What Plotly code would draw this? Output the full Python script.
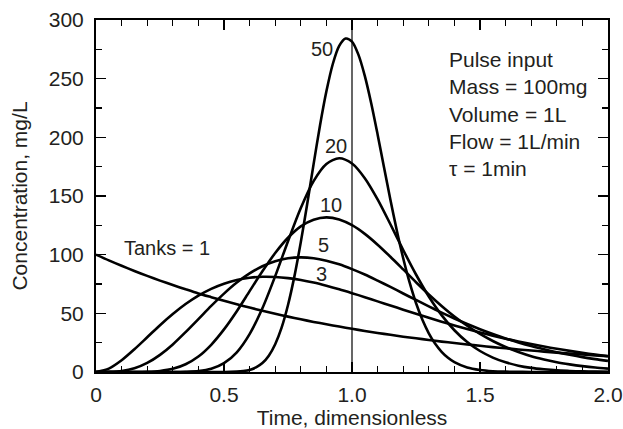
import plotly.graph_objects as go

# Dimensionless time samples
theta = [0.00, 0.05, 0.10, 0.15, 0.20, 0.25, 0.30, 0.35, 0.40, 0.45,
         0.50, 0.55, 0.60, 0.65, 0.70, 0.75, 0.80, 0.85, 0.90, 0.95,
         1.00, 1.05, 1.10, 1.15, 1.20, 1.25, 1.30, 1.35, 1.40, 1.45,
         1.50, 1.55, 1.60, 1.65, 1.70, 1.75, 1.80, 1.85, 1.90, 1.95, 2.00]

tanks_1 = [100.0, 95.1, 90.5, 86.1, 81.9, 77.9, 74.1, 70.5, 67.0, 63.8,
           60.7, 57.7, 54.9, 52.2, 49.7, 47.2, 44.9, 42.7, 40.7, 38.7,
           36.8, 35.0, 33.3, 31.7, 30.1, 28.7, 27.3, 25.9, 24.7, 23.5,
           22.3, 21.2, 20.2, 19.2, 18.3, 17.4, 16.5, 15.7, 15.0, 14.2, 13.5]

tanks_3 = [0.0, 2.9, 10.0, 19.4, 29.6, 39.9, 49.4, 57.9, 65.1, 70.9,
           75.3, 78.4, 80.3, 81.2, 81.0, 80.0, 78.4, 76.2, 73.5, 70.5,
           67.2, 63.8, 60.2, 56.7, 53.1, 49.6, 46.2, 42.9, 39.7, 36.6,
           33.7, 31.0, 28.4, 26.0, 23.8, 21.7, 19.8, 18.0, 16.3, 14.8, 13.4]

tanks_5 = [0.0, 0.1, 0.8, 3.1, 7.7, 14.6, 23.5, 34.0, 45.1, 56.3,
           66.8, 76.2, 84.0, 90.1, 94.4, 96.9, 97.7, 97.0, 94.9, 91.8,
           87.7, 83.1, 77.9, 72.5, 66.9, 61.4, 55.9, 50.6, 45.6, 40.9,
           36.5, 32.4, 28.6, 25.2, 22.1, 19.4, 16.9, 14.7, 12.7, 11.0, 9.5]

tanks_10 = [0.0, 0.0, 0.0, 0.0, 0.2, 0.9, 2.7, 6.6, 13.2, 23.2,
            36.3, 51.8, 68.9, 85.8, 101.4, 114.4, 124.1, 129.8, 131.8, 130.0,
            125.1, 117.7, 108.5, 98.2, 87.4, 76.5, 66.1, 56.3, 47.3, 39.4,
            32.4, 26.4, 21.3, 17.1, 13.5, 10.7, 8.3, 6.5, 5.0, 3.8, 2.9]

tanks_20 = [0.0, 0.0, 0.0, 0.0, 0.0, 0.0, 0.0, 0.2, 0.8, 2.7,
            7.5, 16.8, 32.3, 54.3, 81.7, 111.5, 139.8, 162.7, 177.3, 182.2,
            177.7, 165.2, 147.1, 125.9, 104.0, 83.1, 64.4, 48.5, 35.6, 25.5,
            17.9, 12.3, 8.3, 5.4, 3.5, 2.3, 1.4, 0.9, 0.5, 0.3, 0.2]

# Finer sampling for the sharp 50-tank curve
theta_fine = [0.00, 0.40, 0.50, 0.525, 0.55, 0.575, 0.60, 0.625, 0.65, 0.675,
              0.70, 0.725, 0.75, 0.775, 0.80, 0.825, 0.85, 0.875, 0.90, 0.925,
              0.95, 0.975, 1.00, 1.025, 1.05, 1.075, 1.10, 1.125, 1.15, 1.175,
              1.20, 1.225, 1.25, 1.275, 1.30, 1.325, 1.35, 1.375, 1.40, 1.45,
              1.50, 1.55, 1.60, 1.70, 2.00]

tanks_50 = [0.0, 0.0, 0.04, 0.11, 0.3, 0.8, 1.8, 3.9, 7.6, 13.9,
            23.7, 37.8, 57.1, 81.5, 110.7, 143.2, 177.2, 210.1, 239.2, 262.5,
            277.9, 284.2, 281.6, 270.5, 252.4, 229.1, 202.5, 174.5, 146.8, 120.6,
            97.0, 76.3, 58.8, 44.5, 33.0, 24.0, 17.2, 12.1, 8.4, 3.8,
            1.7, 0.7, 0.3, 0.0, 0.0]

curve_labels = ["Tanks = 1", "3", "5", "10", "20", "50"]
label_x = [0.277, 0.880, 0.889, 0.917, 0.936, 0.881]
label_y = [105.7, 83.5, 108.0, 142.0, 192.6, 275.0]

x_tick_vals = [0, 0.5, 1.0, 1.5, 2.0]
x_tick_text = ["0", "0.5", "1.0", "1.5", "2.0"]
y_tick_vals = [0, 50, 100, 150, 200, 250, 300]

info_lines = ["Pulse input", "Mass = 100mg", "Volume = 1L", "Flow = 1L/min", "τ = 1min"]

FONT = "Liberation Sans, Arial, Helvetica, sans-serif"
TXT = "#231f20"

fig = go.Figure()
series = [(theta, tanks_1), (theta, tanks_3), (theta, tanks_5),
          (theta, tanks_10), (theta, tanks_20), (theta_fine, tanks_50)]
for xs, ys in series:
    fig.add_trace(go.Scatter(x=xs, y=ys, mode="lines",
                             line=dict(color="black", width=2.6, shape="spline", smoothing=0.8),
                             showlegend=False, hoverinfo="skip"))

# Vertical reference line at theta = 1
fig.add_shape(type="line", x0=1.0, x1=1.0, y0=0, y1=300, xref="x", yref="y",
              line=dict(color="black", width=1.2), layer="above")

for t, x, y in zip(curve_labels, label_x, label_y):
    fig.add_annotation(x=x, y=y, text=t, showarrow=False,
                       font=dict(family=FONT, size=20, color=TXT),
                       xanchor="center", yanchor="middle")

fig.add_annotation(x=1.37, y=278, xref="x", yref="y", text="<br>".join(info_lines),
                   showarrow=False, align="left", xanchor="left", yanchor="top",
                   font=dict(family=FONT, size=21, color=TXT))

axis_common = dict(showline=True, linecolor="black", linewidth=2, mirror="allticks",
                   ticks="inside", tickcolor="black", tickwidth=1.3, ticklen=10,
                   showgrid=False, zeroline=False, automargin=False,
                   ticklabeloverflow="allow",
                   tickfont=dict(family=FONT, size=21, color=TXT))

fig.update_xaxes(range=[0, 2.0], tickvals=x_tick_vals, ticktext=x_tick_text,
                 ticklabelstandoff=3,
                 minor=dict(dtick=0.1, tick0=0, ticks="inside", ticklen=6, tickwidth=1.3,
                            tickcolor="black", showgrid=False),
                 title=dict(text="Time, dimensionless",
                            font=dict(family=FONT, size=21, color=TXT)),
                 **axis_common)
fig.update_yaxes(range=[0, 300], tickvals=y_tick_vals, ticklabelstandoff=6,
                 minor=dict(dtick=25, tick0=0, ticks="inside", ticklen=6, tickwidth=1.3,
                            tickcolor="black", showgrid=False),
                 title=dict(text="Concentration, mg/L",
                            font=dict(family=FONT, size=21, color=TXT)),
                 **axis_common)

fig.update_layout(width=623, height=429, margin=dict(l=96, r=15, t=20, b=57),
                  paper_bgcolor="white", plot_bgcolor="white",
                  font=dict(family=FONT, color=TXT))

# Remove the browser's default page margin so the figure fills the window exactly
fig.write_html("out.html",
               config={"displayModeBar": False, "staticPlot": True},
               post_script="document.body.style.margin='0';document.body.style.overflow='hidden';")
